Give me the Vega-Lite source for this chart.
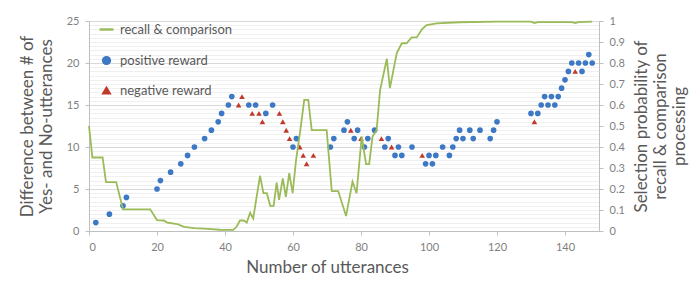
{
  "$schema": "https://vega.github.io/schema/vega-lite/v6.json",
  "autosize": {"type": "none"},
  "width": 510,
  "height": 210,
  "padding": {"left": 89, "top": 21, "right": 98, "bottom": 55},
  "background": "white",
  "config": {
    "view": {"stroke": null},
    "font": "Lato",
    "axis": {"labelFont": "Lato", "titleFont": "Lato", "labelColor": "#7f7f7f", "titleColor": "#595959", "titleFontWeight": "normal", "domainColor": "#bfbfbf", "tickColor": "#bfbfbf", "labelFontSize": 11, "titleFontSize": 17}
  },
  "datasets": {
    "line": [
      {"x": 0, "p": 0.5, "series": "recall & comparison"},
      {"x": 1, "p": 0.35, "series": "recall & comparison"},
      {"x": 4, "p": 0.35, "series": "recall & comparison"},
      {"x": 5, "p": 0.233, "series": "recall & comparison"},
      {"x": 8, "p": 0.233, "series": "recall & comparison"},
      {"x": 10, "p": 0.103, "series": "recall & comparison"},
      {"x": 18, "p": 0.103, "series": "recall & comparison"},
      {"x": 20, "p": 0.052, "series": "recall & comparison"},
      {"x": 22, "p": 0.05, "series": "recall & comparison"},
      {"x": 23, "p": 0.04, "series": "recall & comparison"},
      {"x": 26, "p": 0.033, "series": "recall & comparison"},
      {"x": 28, "p": 0.02, "series": "recall & comparison"},
      {"x": 31, "p": 0.014, "series": "recall & comparison"},
      {"x": 35, "p": 0.01, "series": "recall & comparison"},
      {"x": 38.5, "p": 0.006, "series": "recall & comparison"},
      {"x": 42.4, "p": 0.005, "series": "recall & comparison"},
      {"x": 43.4, "p": 0.02, "series": "recall & comparison"},
      {"x": 44.4, "p": 0.05, "series": "recall & comparison"},
      {"x": 45.5, "p": 0.05, "series": "recall & comparison"},
      {"x": 46.4, "p": 0.04, "series": "recall & comparison"},
      {"x": 47.4, "p": 0.087, "series": "recall & comparison"},
      {"x": 48.3, "p": 0.06, "series": "recall & comparison"},
      {"x": 49.3, "p": 0.163, "series": "recall & comparison"},
      {"x": 50.3, "p": 0.263, "series": "recall & comparison"},
      {"x": 51.3, "p": 0.18, "series": "recall & comparison"},
      {"x": 52.3, "p": 0.18, "series": "recall & comparison"},
      {"x": 53.3, "p": 0.12, "series": "recall & comparison"},
      {"x": 54.3, "p": 0.12, "series": "recall & comparison"},
      {"x": 55.2, "p": 0.23, "series": "recall & comparison"},
      {"x": 55.9, "p": 0.148, "series": "recall & comparison"},
      {"x": 57, "p": 0.25, "series": "recall & comparison"},
      {"x": 57.9, "p": 0.163, "series": "recall & comparison"},
      {"x": 58.9, "p": 0.275, "series": "recall & comparison"},
      {"x": 59.9, "p": 0.18, "series": "recall & comparison"},
      {"x": 60.9, "p": 0.338, "series": "recall & comparison"},
      {"x": 62.1, "p": 0.473, "series": "recall & comparison"},
      {"x": 63.3, "p": 0.624, "series": "recall & comparison"},
      {"x": 64.5, "p": 0.624, "series": "recall & comparison"},
      {"x": 65.5, "p": 0.48, "series": "recall & comparison"},
      {"x": 69.9, "p": 0.48, "series": "recall & comparison"},
      {"x": 71.4, "p": 0.19, "series": "recall & comparison"},
      {"x": 73.3, "p": 0.19, "series": "recall & comparison"},
      {"x": 75.6, "p": 0.071, "series": "recall & comparison"},
      {"x": 77.5, "p": 0.235, "series": "recall & comparison"},
      {"x": 78.7, "p": 0.18, "series": "recall & comparison"},
      {"x": 80.2, "p": 0.45, "series": "recall & comparison"},
      {"x": 81.5, "p": 0.318, "series": "recall & comparison"},
      {"x": 82.4, "p": 0.318, "series": "recall & comparison"},
      {"x": 83.4, "p": 0.45, "series": "recall & comparison"},
      {"x": 84.6, "p": 0.48, "series": "recall & comparison"},
      {"x": 85.6, "p": 0.67, "series": "recall & comparison"},
      {"x": 87.6, "p": 0.82, "series": "recall & comparison"},
      {"x": 88.5, "p": 0.68, "series": "recall & comparison"},
      {"x": 90.5, "p": 0.846, "series": "recall & comparison"},
      {"x": 92, "p": 0.894, "series": "recall & comparison"},
      {"x": 93.4, "p": 0.894, "series": "recall & comparison"},
      {"x": 94.9, "p": 0.922, "series": "recall & comparison"},
      {"x": 96.4, "p": 0.922, "series": "recall & comparison"},
      {"x": 97.9, "p": 0.96, "series": "recall & comparison"},
      {"x": 99.3, "p": 0.98, "series": "recall & comparison"},
      {"x": 102.3, "p": 0.989, "series": "recall & comparison"},
      {"x": 109, "p": 0.994, "series": "recall & comparison"},
      {"x": 120, "p": 0.997, "series": "recall & comparison"},
      {"x": 130, "p": 0.997, "series": "recall & comparison"},
      {"x": 131, "p": 0.99, "series": "recall & comparison"},
      {"x": 132, "p": 0.995, "series": "recall & comparison"},
      {"x": 142, "p": 0.995, "series": "recall & comparison"},
      {"x": 143, "p": 0.99, "series": "recall & comparison"},
      {"x": 144, "p": 0.995, "series": "recall & comparison"},
      {"x": 148, "p": 0.997, "series": "recall & comparison"}
    ],
    "pts": [
      {"x": 2, "d": 1, "series": "positive reward"},
      {"x": 6, "d": 2, "series": "positive reward"},
      {"x": 10, "d": 3, "series": "positive reward"},
      {"x": 11, "d": 4, "series": "positive reward"},
      {"x": 20, "d": 5, "series": "positive reward"},
      {"x": 21, "d": 6, "series": "positive reward"},
      {"x": 24, "d": 7, "series": "positive reward"},
      {"x": 27, "d": 8, "series": "positive reward"},
      {"x": 29, "d": 9, "series": "positive reward"},
      {"x": 31, "d": 10, "series": "positive reward"},
      {"x": 34, "d": 11, "series": "positive reward"},
      {"x": 36, "d": 12, "series": "positive reward"},
      {"x": 38, "d": 13, "series": "positive reward"},
      {"x": 39, "d": 14, "series": "positive reward"},
      {"x": 41, "d": 15, "series": "positive reward"},
      {"x": 42, "d": 16, "series": "positive reward"},
      {"x": 47, "d": 15, "series": "positive reward"},
      {"x": 49, "d": 15, "series": "positive reward"},
      {"x": 52, "d": 14, "series": "positive reward"},
      {"x": 54, "d": 15, "series": "positive reward"},
      {"x": 60, "d": 10, "series": "positive reward"},
      {"x": 61, "d": 11, "series": "positive reward"},
      {"x": 71, "d": 10, "series": "positive reward"},
      {"x": 72, "d": 11, "series": "positive reward"},
      {"x": 75, "d": 12, "series": "positive reward"},
      {"x": 76, "d": 13, "series": "positive reward"},
      {"x": 78, "d": 11, "series": "positive reward"},
      {"x": 79, "d": 12, "series": "positive reward"},
      {"x": 81, "d": 10, "series": "positive reward"},
      {"x": 82, "d": 11, "series": "positive reward"},
      {"x": 84, "d": 12, "series": "positive reward"},
      {"x": 87, "d": 10, "series": "positive reward"},
      {"x": 88, "d": 11, "series": "positive reward"},
      {"x": 90, "d": 9, "series": "positive reward"},
      {"x": 91, "d": 10, "series": "positive reward"},
      {"x": 92, "d": 9, "series": "positive reward"},
      {"x": 95, "d": 10, "series": "positive reward"},
      {"x": 99, "d": 8, "series": "positive reward"},
      {"x": 100, "d": 9, "series": "positive reward"},
      {"x": 101, "d": 8, "series": "positive reward"},
      {"x": 102, "d": 9, "series": "positive reward"},
      {"x": 104, "d": 10, "series": "positive reward"},
      {"x": 106, "d": 9, "series": "positive reward"},
      {"x": 107, "d": 10, "series": "positive reward"},
      {"x": 108, "d": 11, "series": "positive reward"},
      {"x": 109, "d": 12, "series": "positive reward"},
      {"x": 110, "d": 11, "series": "positive reward"},
      {"x": 112, "d": 12, "series": "positive reward"},
      {"x": 113, "d": 11, "series": "positive reward"},
      {"x": 115, "d": 12, "series": "positive reward"},
      {"x": 118, "d": 11, "series": "positive reward"},
      {"x": 119, "d": 12, "series": "positive reward"},
      {"x": 120, "d": 13, "series": "positive reward"},
      {"x": 130, "d": 14, "series": "positive reward"},
      {"x": 132, "d": 14, "series": "positive reward"},
      {"x": 133, "d": 15, "series": "positive reward"},
      {"x": 134, "d": 16, "series": "positive reward"},
      {"x": 135, "d": 15, "series": "positive reward"},
      {"x": 136, "d": 16, "series": "positive reward"},
      {"x": 137, "d": 15, "series": "positive reward"},
      {"x": 138, "d": 16, "series": "positive reward"},
      {"x": 139, "d": 17, "series": "positive reward"},
      {"x": 140, "d": 18, "series": "positive reward"},
      {"x": 141, "d": 19, "series": "positive reward"},
      {"x": 142, "d": 20, "series": "positive reward"},
      {"x": 144, "d": 20, "series": "positive reward"},
      {"x": 145, "d": 19, "series": "positive reward"},
      {"x": 146, "d": 20, "series": "positive reward"},
      {"x": 147, "d": 21, "series": "positive reward"},
      {"x": 148, "d": 20, "series": "positive reward"},
      {"x": 44, "d": 15, "series": "negative reward"},
      {"x": 45, "d": 16, "series": "negative reward"},
      {"x": 48, "d": 14, "series": "negative reward"},
      {"x": 50, "d": 14, "series": "negative reward"},
      {"x": 51, "d": 13, "series": "negative reward"},
      {"x": 56, "d": 14, "series": "negative reward"},
      {"x": 57, "d": 13, "series": "negative reward"},
      {"x": 58, "d": 12, "series": "negative reward"},
      {"x": 59, "d": 11, "series": "negative reward"},
      {"x": 62, "d": 10, "series": "negative reward"},
      {"x": 63, "d": 9, "series": "negative reward"},
      {"x": 64, "d": 8, "series": "negative reward"},
      {"x": 66, "d": 9, "series": "negative reward"},
      {"x": 77, "d": 12, "series": "negative reward"},
      {"x": 80, "d": 11, "series": "negative reward"},
      {"x": 86, "d": 11, "series": "negative reward"},
      {"x": 89, "d": 10, "series": "negative reward"},
      {"x": 98, "d": 9, "series": "negative reward"},
      {"x": 131, "d": 13, "series": "negative reward"},
      {"x": 143, "d": 19, "series": "negative reward"}
    ]
  },
  "encoding": {
    "x": {
      "field": "x", "type": "quantitative",
      "scale": {"domain": [0, 150], "nice": false, "zero": false},
      "axis": {
        "values": [0, 20, 40, 60, 80, 100, 120, 140],
        "grid": false, "ticks": true, "tickSize": 4,
        "labelPadding": 6,
        "title": "Number of utterances",
        "titleX": 238, "titleY": 28, "titleAlign": "center", "titleBaseline": "top"
      }
    }
  },
  "layer": [
    {
      "data": {"name": "pts"},
      "mark": {"type": "point", "filled": true, "opacity": 1, "size": 32},
      "encoding": {
        "y": {
          "field": "d", "type": "quantitative",
          "scale": {"domain": [0, 25], "nice": false},
          "axis": {
            "orient": "left",
            "values": [0,0.5,1,1.5,2,2.5,3,3.5,4,4.5,5,5.5,6,6.5,7,7.5,8,8.5,9,9.5,10,10.5,11,11.5,12,12.5,13,13.5,14,14.5,15,15.5,16,16.5,17,17.5,18,18.5,19,19.5,20,20.5,21,21.5,22,22.5,23,23.5,24,24.5,25],
            "labelExpr": "datum.value % 5 === 0 ? format(datum.value, 'd') : ''",
            "labelOverlap": false,
            "grid": true,
            "gridColor": {"condition": {"test": "datum.value % 5 === 0", "value": "#d9d9d9"}, "value": "#f0f0f0"},
            "tickOpacity": {"condition": {"test": "datum.value % 5 === 0", "value": 1}, "value": 0},
            "tickSize": 4,
            "labelPadding": 6,
            "title": ["Difference between # of", "Yes- and No-utterances"],
            "titlePadding": 11
          }
        },
        "color": {
          "field": "series", "type": "nominal",
          "scale": {"domain": ["recall & comparison", "positive reward", "negative reward"], "range": ["#9BBB59", "#3D78C4", "#C0392B"]},
          "legend": {
            "title": null, "orient": "none", "legendX": 11, "legendY": 2,
            "labelFont": "Lato", "labelFontSize": 13, "labelColor": "#595959",
            "rowPadding": 16, "symbolSize": 60, "labelOffset": 7
          }
        },
        "shape": {
          "field": "series", "type": "nominal",
          "scale": {"domain": ["recall & comparison", "positive reward", "negative reward"], "range": ["M-1.6,-0.12H1.6V0.12H-1.6Z", "circle", "triangle-up"]},
          "legend": {"title": null, "orient": "none", "legendX": 11, "legendY": 2}
        }
      }
    },
    {
      "data": {"name": "line"},
      "mark": {"type": "line", "strokeWidth": 1.8, "interpolate": "linear"},
      "encoding": {
        "y": {
          "field": "p", "type": "quantitative",
          "scale": {"domain": [0, 1], "nice": false},
          "axis": {
            "orient": "right",
            "values": [0, 0.1, 0.2, 0.3, 0.4, 0.5, 0.6, 0.7, 0.8, 0.9, 1],
            "format": "~g",
            "grid": false,
            "tickSize": 4,
            "labelPadding": 6,
            "title": ["Selection probability of", "recall & comparison", "processing"],
            "titleAngle": -90,
            "titlePadding": -12
          }
        },
        "color": {"field": "series", "type": "nominal"}
      }
    }
  ],
  "resolve": {"scale": {"y": "independent"}}
}
